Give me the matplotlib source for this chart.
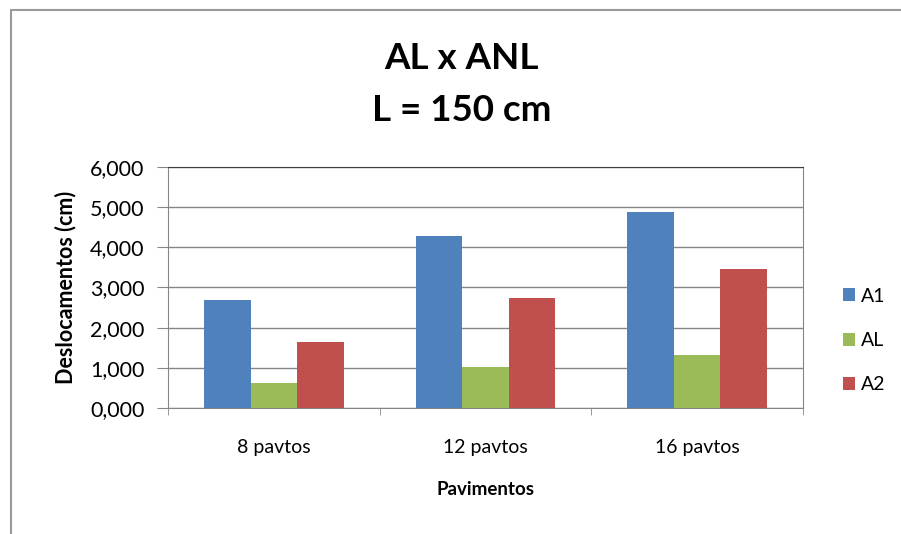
import matplotlib.pyplot as plt
import numpy as np
from matplotlib.ticker import FuncFormatter
from matplotlib.patches import Rectangle

# Dados
categorias = ['8 pavtos', '12 pavtos', '16 pavtos']
series = ['A1', 'AL', 'A2']
a1 = [2.70, 4.27, 4.87]
al = [0.62, 1.01, 1.31]
a2 = [1.64, 2.74, 3.47]
cores = ['#4F81BD', '#9BBB59', '#C0504D']

plt.rcParams['font.family'] = ['Lato', 'DejaVu Sans']

fig = plt.figure(figsize=(9.01, 5.34), dpi=100)
fig.patches.append(Rectangle((11 / 901, -0.05), 1.2, 1 - 10 / 534 + 0.05,
                             transform=fig.transFigure, fill=False,
                             edgecolor='#9a9a9a', linewidth=1.5))

ax = fig.add_axes([0.1865, 0.236, 0.7045, 0.4513])

largura = 0.22
x = np.arange(len(categorias))
for i, (nome, valores) in enumerate(zip(series, [a1, al, a2])):
    ax.bar(x + (i - 1) * largura, valores, largura, color=cores[i], label=nome, zorder=3)

ax.set_xlim(-0.5, 2.5)
ax.set_ylim(0, 6)
ax.set_yticks(np.arange(0, 7, 1))
ax.yaxis.set_major_formatter(FuncFormatter(lambda v, p: f'{v:.3f}'.replace('.', ',')))
ax.yaxis.grid(True, color='#868686', linewidth=1, zorder=0)

ax.set_xticks(x)
ax.set_xticklabels(categorias, fontsize=14)
ax.set_xticks([-0.5, 0.5, 1.5, 2.5], minor=True)
ax.tick_params(axis='x', which='major', length=0, pad=22)
ax.tick_params(axis='x', which='minor', length=5, color='#868686')
ax.tick_params(axis='y', length=8, color='#868686', labelsize=15.5, pad=9)

for s in ax.spines.values():
    s.set_color('#868686')
ax.spines['top'].set_color('#404040')

ax.set_ylabel('Deslocamentos (cm)', fontsize=15.5, fontweight='bold', labelpad=10)
ax.set_xlabel('Pavimentos', fontsize=13.5, fontweight='bold', labelpad=18)

fig.text(0.512, 0.891, 'AL x ANL', ha='center', va='center', fontsize=26.5, fontweight='bold')
fig.text(0.512, 0.794, 'L = 150 cm', ha='center', va='center', fontsize=26.5, fontweight='bold')

ax.legend(loc='center left', bbox_to_anchor=(1.035, 0.28), frameon=False,
          fontsize=14, handlelength=0.65, handleheight=0.65, labelspacing=1.4,
          handletextpad=0.3)

fig.savefig('out.png', dpi=100)
